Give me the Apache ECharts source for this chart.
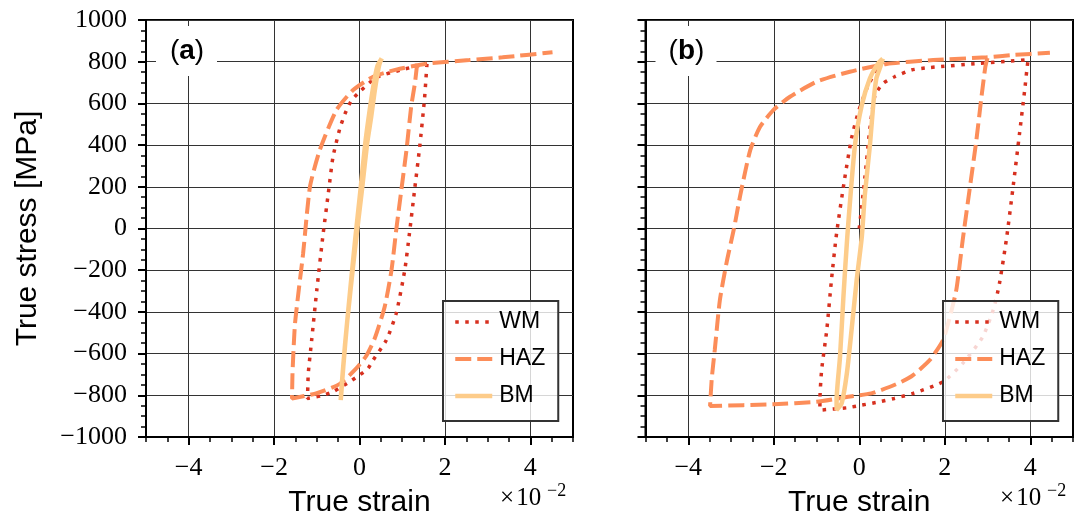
<!DOCTYPE html>
<html><head><meta charset="utf-8">
<script src="https://cdn.jsdelivr.net/npm/echarts@6/dist/echarts.min.js"></script>
<style>html,body{margin:0;padding:0;background:#fff}#c{width:1075px;height:520px}</style>
</head><body><div id="c"></div>
<script>
// strain values are in units of 1e-2 (axis shows ×10^-2), stress in MPa
const seriesNames = ['WM', 'HAZ', 'BM'];
const xTickValues = [-4, -2, 0, 2, 4];
const yTickRange = [-1000, 1000, 200];

// ---- panel (a)
const WM_a = [[1.58,790],[1.55,700],[1.52,616],[1.41,392],[1.29,185],[1.17,-23],[1.06,-199],[0.86,-407],[0.63,-535],[0.32,-631],[0.2,-671],[0.0,-703],[-0.23,-735],[-0.62,-783],[-0.9,-803],[-1.22,-815],
  [-1.21,-760],[-1.20,-695],[-1.12,-535],[-1.0,-295],[-0.85,-23],[-0.73,169],[-0.62,344],[-0.46,480],[-0.34,550],[-0.2,610],[0.0,655],[0.4,725],[1.0,762],[1.58,790]];
const HAZ_a = [[1.35,790],[1.30,700],[1.21,584],[1.10,376],[0.98,185],[0.86,-7],[0.75,-199],[0.59,-375],[0.36,-525],[0.16,-610],[-0.07,-670],[-0.46,-745],[-1.0,-790],[-1.58,-815],
  [-1.57,-700],[-1.54,-560],[-1.51,-455],[-1.42,-290],[-1.32,-119],[-1.16,200],[-0.93,376],[-0.54,568],[-0.15,664],[0.32,728],[0.86,762],[1.56,790],[2.57,808],[3.35,821],[4.52,845]];
const BM_a = [[0.52,816],[0.47,790],[0.42,740],[0.35,650],[0.27,530],[0.18,410],[0.06,190],[-0.05,0],[-0.15,-180],[-0.29,-450],[-0.38,-663],[-0.43,-800],[-0.44,-823],
  [-0.42,-760],[-0.34,-560],[-0.22,-300],[-0.10,-50],[0.02,180],[0.13,400],[0.24,570],[0.33,690],[0.42,780],[0.52,816]];

// ---- panel (b)
const WM_b = [[0,0],[0.13,241],[0.25,481],[0.37,640],[0.56,696],[0.83,728],[1.22,760],[1.65,772],[2.82,792],[3.5,802],[3.95,810],
  [3.92,760],[3.87,664],[3.75,457],[3.59,185],[3.44,-55],[3.28,-263],[3.15,-380],[2.89,-519],[2.42,-647],[1.96,-735],[1.26,-791],[0.82,-815],[0.48,-831],[0.06,-847],[-0.29,-860],[-0.92,-871],
  [-0.92,-823],[-0.88,-679],[-0.76,-487],[-0.65,-247],[-0.53,-23],[-0.34,241],[-0.18,433],[-0.02,560],[0.21,688],[0.44,768],[0.55,800]];
const HAZ_b = [[3.0,818],[2.95,776],[2.85,616],[2.74,424],[2.58,185],[2.42,-55],[2.27,-295],[2.1,-440],[1.96,-535],[1.65,-631],[1.26,-703],[0.99,-735],[0.72,-759],[0.28,-791],[-0.26,-807],[-1.0,-831],[-2.0,-843],[-3.49,-851],
  [-3.45,-720],[-3.38,-583],[-3.26,-343],[-3.1,-160],[-2.93,0],[-2.79,153],[-2.55,376],[-2.32,488],[-2.01,568],[-1.62,632],[-1.0,704],[-0.22,752],[0.64,789],[1.73,808],[2.98,821],[3.6,832],[4.46,843]];
const BM_b = [[0.55,815],[0.50,780],[0.40,720],[0.33,600],[0.25,400],[0.13,161],[0.06,-40],[-0.06,-247],[-0.18,-487],[-0.29,-695],[-0.41,-838],[-0.53,-871],
  [-0.53,-823],[-0.45,-615],[-0.37,-327],[-0.28,-40],[-0.10,400],[0.06,592],[0.25,720],[0.44,792],[0.55,815]];

const colors = {WM: '#d7301f', HAZ: '#fc8d59', BM: '#fdcc8a'};
const lineTypes = {WM: {width: 3.5, type: [3.5, 6.5]}, HAZ: {width: 4, type: [16, 6]}, BM: {width: 4.5, type: 'solid'}};

const serif = 'Liberation Serif';
const sans = 'Liberation Sans';
const minus = v => (v < 0 ? '\u2212' + (-v) : String(v));

const panels = [
  {left: 146, width: 427, data: {WM: WM_a, HAZ: HAZ_a, BM: BM_a}, label: 'a', showY: true},
  {left: 645.5, width: 427.5, data: {WM: WM_b, HAZ: HAZ_b, BM: BM_b}, label: 'b', showY: false}
];
const gridTop = 20, gridHeight = 417;

const grid = [], xAxis = [], yAxis = [], series = [], legend = [], graphic = [];
panels.forEach((p, i) => {
  grid.push({left: p.left, top: gridTop, width: p.width, height: gridHeight, show: true,
    borderColor: '#000', borderWidth: 2, backgroundColor: 'transparent', containLabel: false});
  xAxis.push({type: 'value', gridIndex: i, min: -5, max: 5, interval: 1,
    axisLine: {show: true, onZero: false, lineStyle: {color: '#000', width: 2}},
    axisTick: {show: true, customValues: xTickValues, length: 8, lineStyle: {color: '#000', width: 2}},
    axisLabel: {show: true, customValues: xTickValues, margin: 18, fontFamily: serif, fontSize: 26, color: '#000', formatter: minus},
    splitLine: {show: true, lineStyle: {color: '#333', width: 1}},
    minorTick: {show: false}});
  xAxis.push({type: 'value', gridIndex: i, min: -5, max: 5, interval: 0.5, position: 'bottom',
    axisLine: {show: false, onZero: false},
    axisTick: {show: true, length: 5, lineStyle: {color: '#000', width: 1.5}},
    axisLabel: {show: false}, splitLine: {show: false}});
  yAxis.push({type: 'value', gridIndex: i, min: yTickRange[0], max: yTickRange[1], interval: yTickRange[2],
    axisLine: {show: true, onZero: false, lineStyle: {color: '#000', width: 2}},
    axisTick: {show: true, length: 8, lineStyle: {color: '#000', width: 2}},
    minorTick: {show: true, splitNumber: 4, length: 5, lineStyle: {color: '#000', width: 1.5}},
    axisLabel: {show: p.showY, margin: 19, fontFamily: serif, fontSize: 26, color: '#000', formatter: minus},
    splitLine: {show: true, lineStyle: {color: '#333', width: 1}}});
  seriesNames.forEach((n, k) => {
    series.push({type: 'line', name: n, data: p.data[n], xAxisIndex: i * 2, yAxisIndex: i,
      symbol: 'none', smooth: 0.2, clip: true, z: 2 + k,
      lineStyle: {color: colors[n], width: lineTypes[n].width, type: lineTypes[n].type, cap: 'butt'},
      itemStyle: {color: colors[n]}});
  });
  const R = p.left + p.width;
  legend.push({
    data: seriesNames.map(n => ({name: n, lineStyle: {width: lineTypes[n].width, type: lineTypes[n].type, color: colors[n]}})),
    orient: 'vertical', left: R - 130, top: 301,
    backgroundColor: 'rgba(255,255,255,0.8)', borderColor: '#333', borderWidth: 2, borderRadius: 0,
    padding: [8, 13, 12, 10], itemGap: 11, itemWidth: 37, itemHeight: 26, selectedMode: false,
    itemStyle: {opacity: 0, borderWidth: 0},
    textStyle: {fontFamily: sans, fontSize: 23, color: '#000', lineHeight: 26, padding: [0, 0, 0, 2]}});
  graphic.push({type: 'rect', shape: {x: p.left + 10, y: 26, width: 61, height: 50}, style: {fill: '#fff'}, z: 50});
  graphic.push({type: 'text', x: p.left + 41, y: 51, z: 51,
    style: {text: '{p|(}{b|' + p.label + '}{p|)}', align: 'center', verticalAlign: 'middle',
      rich: {p: {fontFamily: sans, fontSize: 28, fill: '#000'}, b: {fontFamily: sans, fontSize: 28, fontWeight: 'bold', fill: '#000'}}}});
  graphic.push({type: 'text', x: p.left + p.width / 2, y: 503, z: 51,
    style: {text: 'True strain', fontFamily: sans, fontSize: 30, fill: '#000', align: 'center', verticalAlign: 'middle'}});
  graphic.push({type: 'text', x: R - 73, y: 498, z: 51,
    style: {text: '\u00d7\u200a10', fontFamily: serif, fontSize: 25, fill: '#000', align: 'left', verticalAlign: 'middle'}});
  graphic.push({type: 'text', x: R - 26, y: 491, z: 51,
    style: {text: '\u22122', fontFamily: serif, fontSize: 18, fill: '#000', align: 'left', verticalAlign: 'middle'}});
});
graphic.push({type: 'text', x: 27.5, y: 228.5, rotation: Math.PI / 2, z: 51,
  style: {text: 'True stress [MPa]', fontFamily: sans, fontSize: 30, fill: '#000', align: 'center', verticalAlign: 'middle'}});

const chart = echarts.init(document.getElementById('c'), null, {renderer: 'canvas'});
chart.setOption({animation: false, backgroundColor: '#fff', grid, xAxis, yAxis, series, legend, graphic});
</script></body></html>
